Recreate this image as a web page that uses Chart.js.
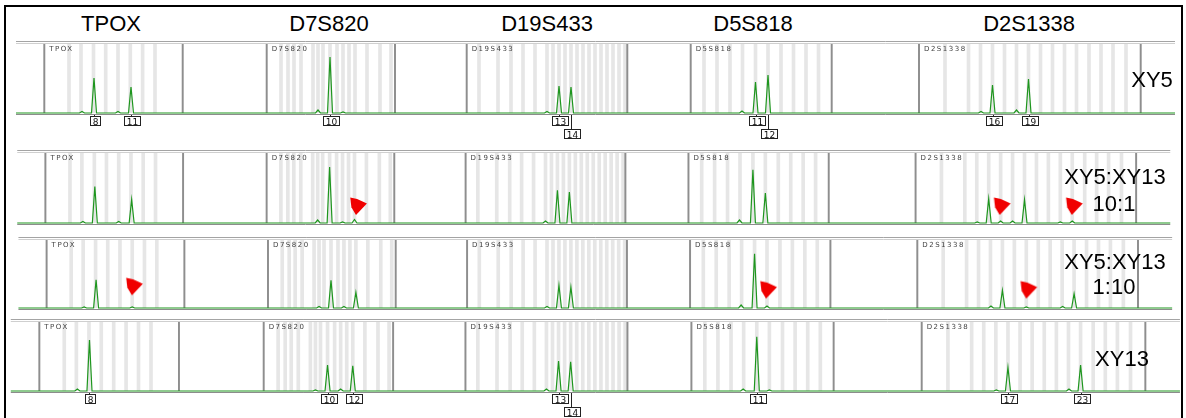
<!DOCTYPE html>
<html>
<head>
<meta charset="utf-8">
<script src="https://cdn.jsdelivr.net/npm/chart.js@4.4.1/dist/chart.umd.min.js"></script>
<style>
body { margin: 0; width: 1186px; height: 418px; overflow: hidden; position: relative; background: #fff;
       font-family: "Liberation Sans", Arial, sans-serif; }
.frame { position: absolute; left: 4px; top: 5px; width: 1179px; height: 480px; border: 2.5px solid #000; box-sizing: border-box; }
canvas { position: absolute; left: 0; }
.t { position: absolute; font-size: 22px; line-height: 22px; white-space: nowrap; transform: translateX(-50%); color: #000; z-index: 5; }
</style>
</head>
<body>
<div class="frame"></div>

<div class="t" style="left:111px;top:13px">TPOX</div>
<div class="t" style="left:329px;top:13px">D7S820</div>
<div class="t" style="left:547px;top:13px">D19S433</div>
<div class="t" style="left:753px;top:13px">D5S818</div>
<div class="t" style="left:1029px;top:13px">D2S1338</div>

<div class="t" style="left:1152px;top:69px">XY5</div>
<div class="t" style="left:1115px;top:166px">XY5:XY13</div>
<div class="t" style="left:1114px;top:193px">10:1</div>
<div class="t" style="left:1115px;top:251px">XY5:XY13</div>
<div class="t" style="left:1114px;top:276px">1:10</div>
<div class="t" style="left:1122px;top:348px">XY13</div>

<canvas id="row0" width="1186"></canvas>
<canvas id="row1" width="1186"></canvas>
<canvas id="row2" width="1186"></canvas>
<canvas id="row3" width="1186"></canvas>

<script>
// loci panels (size scale)
const loci = ['TPOX', 'D7S820', 'D19S433', 'D5S818', 'D2S1338'];
const lociStart = [44.3, 266.7, 466.7, 690.7, 919];
const lociEnd = [182.7, 395, 627.3, 831.7, 1140.7];

// allele bins
const tpoxBins = [69, 81, 93.5, 105.7, 118, 130.3, 142.6, 155];
const d7s820Bins = [281, 288, 294, 301, 313, 318, 323, 330, 337, 343, 349, 355, 367, 380, 391];
const d19s433Bins = [479, 498, 511, 523, 535, 547, 553, 559, 565, 571, 577, 583, 589, 595, 601, 607, 613, 619, 625];
const d5s818Bins = [704, 717, 730, 742.5, 755.5, 768, 781, 793.5, 806, 818.5];
const d2s1338Bins = [945, 968.5, 980.5, 992.5, 1004.5, 1016.5, 1028.5, 1040.5, 1052.5, 1064.5, 1076.5, 1089, 1101, 1113, 1126];

// peaks: size and height (RFU)
const xy5Sizes = [82, 94, 118, 131, 318, 330, 343, 547, 559, 571, 742, 755.5, 768, 981, 992.5, 1016.5, 1028.5];
const xy5Heights = [15, 350, 15, 260, 30, 560, 10, 15, 270, 260, 20, 310, 380, 15, 280, 30, 340];

const mix10Sizes = [82, 94, 118, 131, 318, 330, 343, 355, 547, 559, 571, 742, 755.5, 768, 981, 992.5, 1004.5, 1016.5, 1028.5, 1064.5, 1076.5];
const mix10Heights = [15, 365, 15, 235, 30, 560, 10, 35, 20, 327, 310, 30, 533, 300, 10, 243, 20, 20, 233, 10, 20];

const mix1Sizes = [82, 94, 130.3, 318, 330, 343, 355, 547, 559, 571, 742, 755.5, 768, 993, 1004.5, 1028.5, 1065, 1076.5];
const mix1Heights = [10, 283, 10, 15, 277, 15, 157, 15, 227, 210, 30, 543, 20, 20, 177, 10, 15, 143];

const xy13Sizes = [82, 94, 318, 330, 343, 355, 547, 559, 571, 742, 755.5, 768, 993, 1004.5, 1065, 1076.5];
const xy13Heights = [20, 510, 10, 260, 20, 253, 20, 300, 293, 20, 543, 10, 10, 237, 20, 260];

// allele calls
const xy5Alleles = ['8', '11', '10', '13', '14', '11', '12', '16', '19'];
const xy5AlleleSizes = [94, 131, 330, 559, 571, 755.5, 768, 992.5, 1028.5];
const xy5AlleleLevels = [0, 0, 0, 0, 1, 0, 1, 0, 0];
const xy13Alleles = ['8', '10', '12', '13', '14', '11', '17', '23'];
const xy13AlleleSizes = [94, 330, 355, 559, 571, 755.5, 1004.5, 1076.5];
const xy13AlleleLevels = [0, 0, 0, 0, 1, 0, 0, 0];

// red arrows on minor contributor peaks (tip position)
const mix10ArrowSizes = [356.5, 1003.5, 1076];
const mix10ArrowHeights = [80, 80, 80];
const mix1ArrowSizes = [130, 767, 1028.5];
const mix1ArrowHeights = [127, 94, 94];

// layout
const traceStart = 16, traceEnd = 1175, peakHalf = 2.5;
const rowTop = [43, 152, 239, 321];
const rowBase = [113, 223, 308, 391];
const rowXMin = [0, 3.7, 2.5, 5.3];
const rowXMax = [1186, 1185.8, 1183.9, 1181];

// arrow marker, tip at the image centre
const arrowImg = document.createElement('canvas');
arrowImg.width = 44; arrowImg.height = 44;
const actx = arrowImg.getContext('2d');
actx.translate(22, 22);
actx.scale(1.15, 1.1);
actx.fillStyle = '#f00000';
actx.beginPath();
[[0, 0], [-4, -7], [-5, -16], [1, -14.5], [9.5, -10.5]].forEach(([px, py], i) => {
    if (i) actx.lineTo(px, py); else actx.moveTo(px, py);
});
actx.closePath();
actx.fill();

function traceData(sizes, heights) {
    const pts = [{ x: traceStart, y: 0 }];
    sizes.forEach((s, i) => {
        pts.push({ x: s - peakHalf, y: 0 }, { x: s, y: heights[i] }, { x: s + peakHalf, y: 0 });
    });
    pts.push({ x: traceEnd, y: 0 });
    return pts;
}

function hline(ctx, x0, x1, y) {
    ctx.beginPath();
    ctx.moveTo(x0, y);
    ctx.lineTo(x1, y);
    ctx.stroke();
}

const ephPlugin = {
    id: 'eph',
    afterDatasetsDraw(chart, args, opts) {
        const { ctx, chartArea: a, scales: { x } } = chart;
        const x0 = x.getPixelForValue(traceStart), x1 = x.getPixelForValue(traceEnd);
        ctx.save();
        ctx.lineWidth = 1;
        ctx.strokeStyle = '#a4a4a4';
        hline(ctx, x0, x1, a.top - 1.5);
        ctx.strokeStyle = '#cfcfcf';
        hline(ctx, x0, x1, a.top + 0.5);
        ctx.strokeStyle = '#8c8c8c';
        hline(ctx, x0, x1, a.bottom + 1.5);

        // locus names
        ctx.font = '7px "DejaVu Sans"';
        ctx.letterSpacing = '1.5px';
        ctx.fillStyle = '#444';
        ctx.textAlign = 'left';
        loci.forEach((name, i) => {
            ctx.fillText(name, x.getPixelForValue(lociStart[i]) + 5, a.top + 7.5);
        });

        // allele boxes
        ctx.letterSpacing = '0px';
        ctx.font = '9px "DejaVu Sans"';
        ctx.textAlign = 'center';
        ctx.strokeStyle = '#222';
        (opts.alleles || []).forEach((t, i) => {
            const px = Math.round(x.getPixelForValue(opts.sizes[i])) + 0.5;
            const w = Math.ceil(ctx.measureText(t).width) + 4;
            const top = a.bottom + 3 + opts.levels[i] * 13;
            ctx.beginPath();
            ctx.moveTo(px, a.bottom + 2);
            ctx.lineTo(px, top);
            ctx.stroke();
            const bx = Math.round(px - w / 2) + 0.5;
            ctx.fillStyle = '#fff';
            ctx.fillRect(bx, top + 0.5, w, 9);
            ctx.strokeRect(bx, top + 0.5, w, 9);
            ctx.fillStyle = '#111';
            ctx.fillText(t, bx + w / 2, top + 8.5);
        });
        ctx.restore();
    }
};

const allBins = [].concat(tpoxBins, d7s820Bins, d19s433Bins, d5s818Bins, d2s1338Bins);
const edges = [].concat(lociStart, lociEnd);

function makeRow(r, sizes, heights, labels, arrows) {
    const canvas = document.getElementById('row' + r);
    canvas.height = rowBase[r] - rowTop[r] + 34;
    canvas.style.top = (rowTop[r] - 6) + 'px';
    const yMax = (rowBase[r] - rowTop[r]) * 10;
    const datasets = [
        {
            type: 'bar', data: allBins.map(b => ({ x: b, y: yMax })), backgroundColor: '#e6e6e6',
            barThickness: 3, grouped: false, borderWidth: 0, order: 4
        },
        {
            type: 'bar', data: edges.map(b => ({ x: b, y: yMax })), backgroundColor: '#8e8e8e',
            barThickness: 1.3, grouped: false, borderWidth: 0, order: 3
        },
        {
            type: 'line', data: traceData(sizes, heights), borderColor: '#1e961e', borderWidth: 1.2,
            pointRadius: 0, tension: 0, clip: false, order: 2
        }
    ];
    if (arrows) {
        datasets.push({
            type: 'line', data: arrows.sizes.map((s, i) => ({ x: s, y: arrows.heights[i] })),
            showLine: false, pointStyle: arrowImg, clip: false, order: 1
        });
    }
    return new Chart(canvas, {
        type: 'line',
        data: { datasets },
        options: {
            responsive: false,
            animation: false,
            events: [],
            layout: { padding: { top: 6, bottom: 28, left: 0, right: 0 } },
            scales: {
                x: { type: 'linear', min: rowXMin[r], max: rowXMax[r], offset: false, display: false },
                y: { min: 0, max: yMax, display: false }
            },
            plugins: {
                legend: { display: false },
                tooltip: { enabled: false },
                eph: labels || {}
            }
        },
        plugins: [ephPlugin]
    });
}

makeRow(0, xy5Sizes, xy5Heights, { alleles: xy5Alleles, sizes: xy5AlleleSizes, levels: xy5AlleleLevels });
makeRow(1, mix10Sizes, mix10Heights, null, { sizes: mix10ArrowSizes, heights: mix10ArrowHeights });
makeRow(2, mix1Sizes, mix1Heights, null, { sizes: mix1ArrowSizes, heights: mix1ArrowHeights });
makeRow(3, xy13Sizes, xy13Heights, { alleles: xy13Alleles, sizes: xy13AlleleSizes, levels: xy13AlleleLevels });
</script>
</body>
</html>
